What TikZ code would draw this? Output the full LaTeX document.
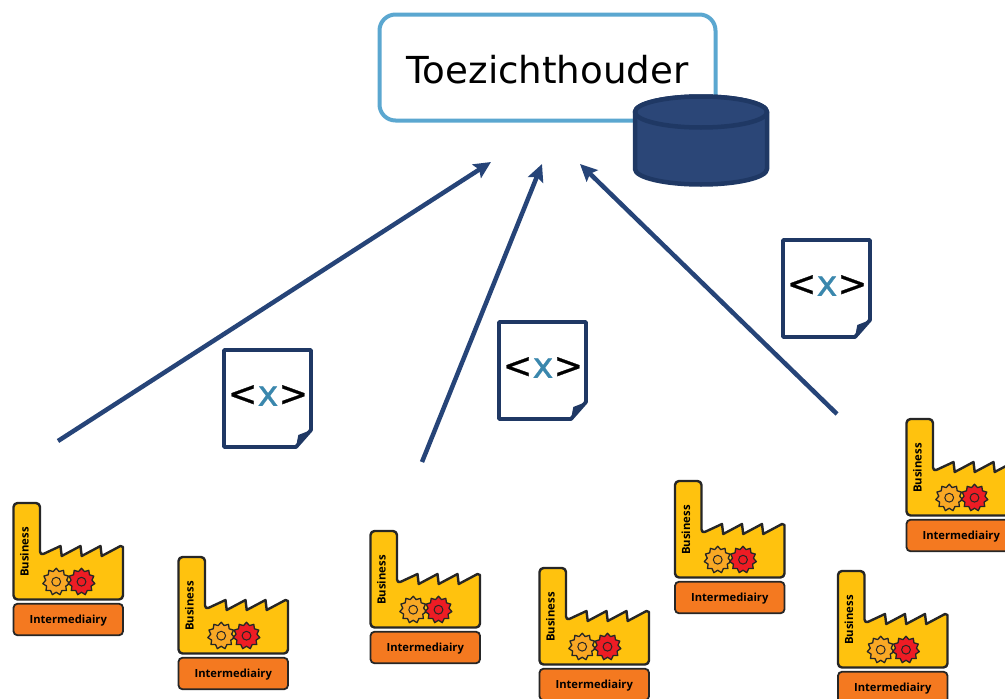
\documentclass[tikz,border=0pt]{standalone}
\usepackage{fontspec}
\usepackage{tikz}
\usetikzlibrary{arrows.meta,positioning,shapes.geometric}
\newfontfamily\titlefont{DejaVu Sans}
\newfontfamily\tagfont[FakeBold=0.7]{DejaVu Sans}
\newfontfamily\labelfont{Open Sans}[BoldFont={Open Sans Bold}]
\definecolor{boxblue}{HTML}{5BA7D0}
\definecolor{navy}{HTML}{1F3864}
\definecolor{dbfill}{HTML}{2B4677}
\definecolor{flowblue}{HTML}{264478}
\definecolor{xblue}{HTML}{3A87AD}
\definecolor{plantyellow}{HTML}{FFC20E}
\definecolor{brokerorange}{HTML}{F47920}
\definecolor{gearorange}{HTML}{F9A825}
\definecolor{gearred}{HTML}{ED1C24}
\tikzset{
  gear/.style={draw=black!85, line width=1.3pt, line join=round, star, star points=11, star point ratio=1.28,
    minimum size=27pt, inner sep=0pt},
  pics/factory/.style={code={
    \draw[draw=black!85, line width=2.4pt, line join=round, fill=plantyellow, rounded corners=4pt]
      (0,0) -- (26.5,0) -- (26.5,52.5) [sharp corners] -- (47,43) -- (48.2,53) -- (67,43)
      -- (68.2,53) -- (87,43) -- (88.2,53) -- (107,43) -- (109.5,44) [rounded corners=4pt]
      -- (109.5,96.5) -- (0,96.5) -- cycle;
    \node[font=\labelfont\bfseries\fontsize{11.3}{11.3}\selectfont, rotate=90] (-owner) at (11,49) {Business};
    \node[gear, fill=gearorange] (-left) at (42.7,78.7) {};
    \node[gear, fill=gearred] (-right) at (68,78.7) {};
    \draw[black!85, line width=1pt] (-left.center) circle (4.4pt);
    \draw[black!85, line width=1pt] (-right.center) circle (4.4pt);
    \node[draw=black!85, line width=1.8pt, fill=brokerorange, rounded corners=4pt,
      minimum width=109.5pt, minimum height=31.5pt, inner sep=0pt,
      font=\labelfont\bfseries\fontsize{11.2}{11.2}\selectfont] (-broker) at (54.75,116.5)
      {\raisebox{-4pt}[0pt][0pt]{Intermediairy}};
  }},
  pics/xmldoc/.style={code={
    \draw[navy, line width=3.8pt, fill=white, line join=round]
      (0,0) -- (87,0) -- (87,80) -- (72,97) -- (0,97) -- cycle;
    \fill[navy] (87,80) -- (74.3,85) -- (72,97) -- cycle;
    \node[font=\tagfont\fontsize{35.5}{35.5}\selectfont, inner sep=0pt] (-tag) at (44,45.5)
      {<\textcolor{xblue}{x}>};
  }}
}
\begin{document}
\begin{tikzpicture}[
  x=1pt, y=-1pt,
  titlebox/.style={draw=boxblue, line width=4pt, fill=white, rounded corners=16pt,
    minimum width=336pt, minimum height=106pt, inner sep=0pt,
    font=\titlefont\fontsize{37.2}{37.2}\selectfont},
  dbstack/.style={draw=navy, line width=4.5pt, fill=dbfill, line join=round},
  flow/.style={draw=flowblue, line width=4.5pt, -{Stealth[length=17pt,width=16pt,inset=3pt]}}
]
\useasboundingbox (0,0) rectangle (1005,699);
\clip (0,0) rectangle (1005,699);

\node[titlebox] (regulator) at (547.5,67.5) {\raisebox{-15.5pt}[0pt][0pt]{Toezichthouder}};

% stored data
\draw[dbstack] (635,112) arc[start angle=180, end angle=0, x radius=66pt, y radius=15.5pt]
  -- (767,169) arc[start angle=0, end angle=-180, x radius=66pt, y radius=15.5pt] -- cycle;
\draw[dbstack] (701,112) ellipse (66pt and 15.5pt);

\coordinate (src1) at (58,441);
\coordinate (dst1) at (491,162);
\coordinate (src2) at (422,462);
\coordinate (dst2) at (542,164);
\coordinate (src3) at (837,414);
\coordinate (dst3) at (580,164);

\draw[flow] (src1) -- (dst1);
\draw[flow] (src2) -- (dst2);
\draw[flow] (src3) -- (dst3);

\pic (doc1) at (224,350) {xmldoc};
\pic (doc2) at (499,322) {xmldoc};
\pic (doc3) at (783,240) {xmldoc};

\pic (plant1) at (13.5,503) {factory};
\pic (plant2) at (178.5,557) {factory};
\pic (plant3) at (370.5,531) {factory};
\pic (plant4) at (539.5,568) {factory};
\pic (plant5) at (675,481) {factory};
\pic (plant6) at (838,571) {factory};
\pic (plant7) at (906.5,419) {factory};
\end{tikzpicture}
\end{document}
